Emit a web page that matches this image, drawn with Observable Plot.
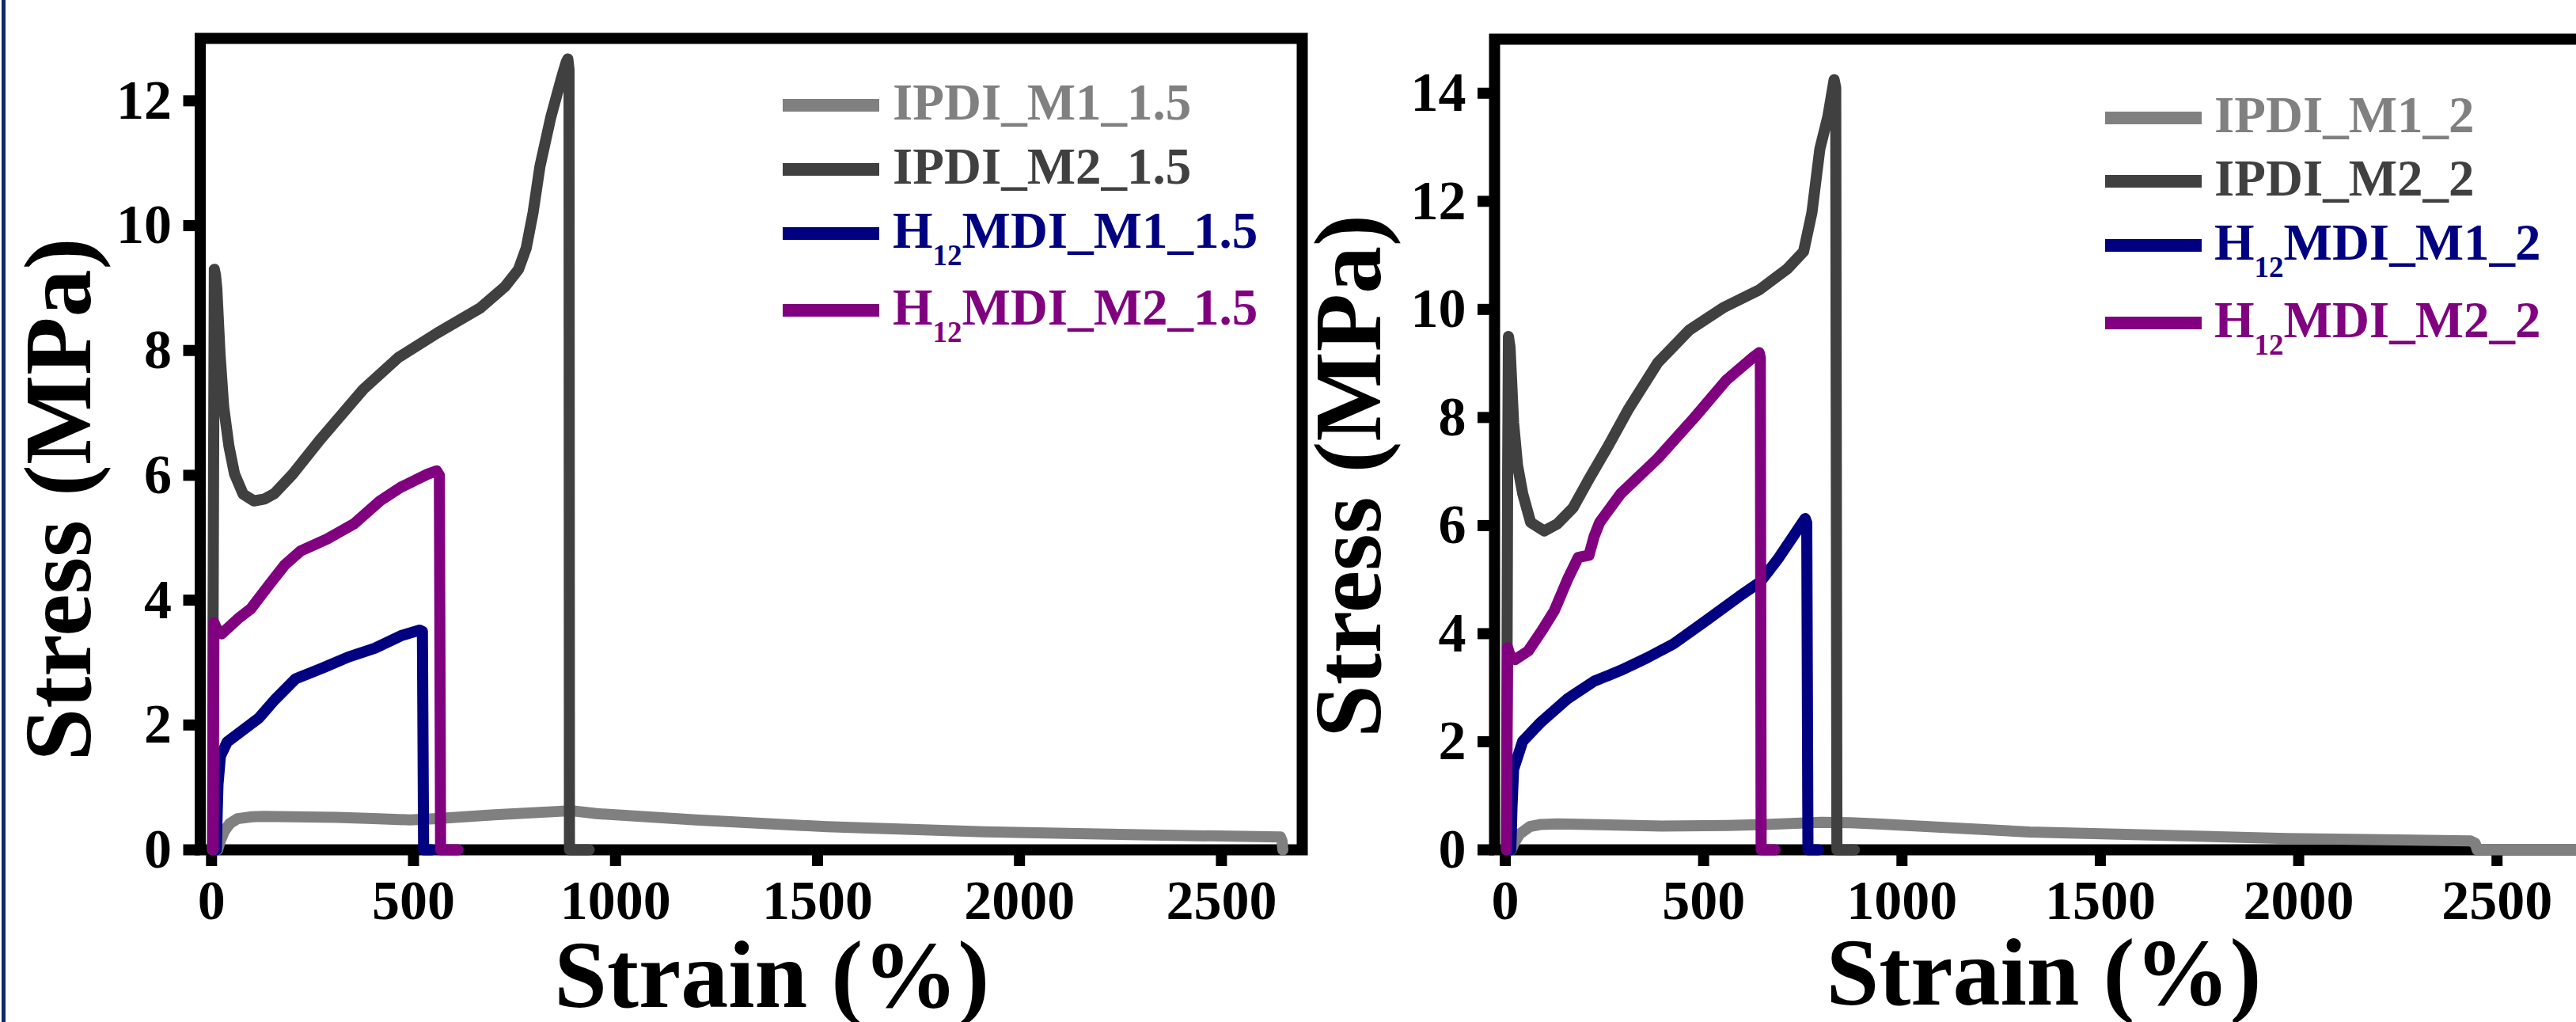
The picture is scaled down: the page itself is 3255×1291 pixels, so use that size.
<!DOCTYPE html>
<html>
<head>
<meta charset="utf-8">
<script src="https://cdn.jsdelivr.net/npm/d3@7"></script>
<script src="https://cdn.jsdelivr.net/npm/@observablehq/plot@0.6"></script>
<style>
  html, body { margin: 0; padding: 0; background: #fff; }
  #page { position: relative; width: 3255px; height: 1291px; overflow: hidden; background: #fff; }
  .panel { position: absolute; top: 0; }
  .edge { position: absolute; left: 2px; top: 0; width: 5px; height: 1291px; background: #10296a; }
  .leg { position: absolute; font-family: "Liberation Serif", "Times New Roman", serif; font-weight: bold; }
  .sw { position: absolute; height: 16px; width: 122px; }
  .lt { position: absolute; font-size: 65px; line-height: 65px; white-space: nowrap; }
  .lt .sb { font-size: 37px; position: relative; top: 22px; }
</style>
</head>
<body>
<div id="page">
  <div id="left" class="panel" style="left:0px"></div>
  <div id="right" class="panel" style="left:1600px"></div>
  <div class="edge"></div>
</div>
<script>
// ---------- data (strain %, stress MPa) ----------
const strainTicks = [0, 500, 1000, 1500, 2000, 2500];
const stressTicksA = [0, 2, 4, 6, 8, 10, 12];
const stressTicksB = [0, 2, 4, 6, 8, 10, 12, 14];

const colors = ["#808080", "#404040", "#000080", "#800080"];
const namesA = [["IPDI_M1_1.5"], ["IPDI_M2_1.5"], ["H", "12", "MDI_M1_1.5"], ["H", "12", "MDI_M2_1.5"]];
const namesB = [["IPDI_M1_2"], ["IPDI_M2_2"], ["H", "12", "MDI_M1_2"], ["H", "12", "MDI_M2_2"]];

const IPDI_M1_15 = [[15,0],[22,0.15],[32,0.3],[45,0.42],[65,0.5],[100,0.53],[129,0.535],[200,0.53],[309,0.52],[400,0.5],[491,0.48],[560,0.5],[700,0.56],[871,0.62],[900,0.62],[953,0.58],[1200,0.48],[1523,0.37],[1913,0.29],[2300,0.24],[2646,0.205],[2650,0.14],[2652,0]];
const IPDI_M2_15 = [[2,0],[5,6],[7,9.3],[10,9.2],[13,9.0],[21,7.95],[30,7.1],[43,6.47],[57,6.02],[78,5.7],[105,5.59],[131,5.62],[156,5.71],[201,6.02],[270,6.58],[376,7.38],[463,7.89],[559,8.28],[612,8.48],[665,8.68],[726,9.02],[760,9.3],[779,9.64],[796,10.21],[813,10.95],[840,11.74],[866,12.36],[878,12.62],[882,12.67],[885,12.5],[886,0],[935,0]];
const H12_M1_15 = [[12,0],[14,0.6],[16,1.05],[22,1.5],[39,1.73],[78,1.92],[117,2.11],[156,2.4],[208,2.74],[274,2.91],[339,3.09],[404,3.23],[469,3.43],[515,3.52],[522,3.5],[525,0],[545,0]];
const H12_M2_15 = [[4,0],[6,3.64],[12,3.55],[25,3.46],[65,3.7],[97,3.86],[143,4.25],[182,4.57],[221,4.79],[286,4.98],[352,5.22],[417,5.59],[469,5.81],[535,6.02],[557,6.07],[564,6.0],[567,0],[610,0]];

const IPDI_M1_2 = [[15,0],[22,0.12],[36,0.29],[62,0.43],[90,0.47],[132,0.48],[394,0.44],[560,0.45],[657,0.47],[797,0.51],[870,0.5],[937,0.48],[1322,0.33],[1969,0.21],[2433,0.166],[2445,0.12],[2450,0],[2730,0]];
const IPDI_M2_2 = [[3,0],[6,7],[8,9.5],[12,9.3],[21,7.9],[31,7.11],[44,6.59],[64,6.06],[98,5.9],[131,6.03],[171,6.33],[211,6.86],[257,7.44],[311,8.16],[384,9.01],[464,9.62],[549,10.03],[640,10.36],[711,10.75],[752,11.07],[773,11.79],[793,12.97],[813,13.56],[829,14.25],[833,14.1],[836,0],[880,0]];
const H12_M1_2 = [[14,0],[17,0.8],[21,1.49],[44,2.01],[91,2.37],[158,2.8],[224,3.12],[291,3.32],[357,3.55],[424,3.81],[504,4.23],[590,4.69],[643,4.96],[690,5.41],[756,6.13],[760,6.05],[763,0],[790,0]];
const H12_M2_2 = [[3,0],[6,3.74],[12,3.6],[25,3.52],[58,3.68],[91,4.04],[124,4.43],[158,5.02],[184,5.41],[211,5.45],[224,5.8],[238,6.06],[291,6.59],[384,7.24],[477,8.0],[557,8.69],[624,9.11],[640,9.2],[643,9.1],[645,0],[680,0]];

const seriesA = [IPDI_M1_15, IPDI_M2_15, H12_M1_15, H12_M2_15];
const seriesB = [IPDI_M1_2, IPDI_M2_2, H12_M1_2, H12_M2_2];

const FONT = "'Liberation Serif', 'Times New Roman', serif";

function panel(cfg) {
  const lines = cfg.series.map((s, i) => Plot.line(s, {
    x: d => d[0], y: d => d[1], stroke: colors[i], strokeWidth: 14,
    strokeLinejoin: "round", strokeLinecap: "round"
  }));
  return Plot.plot({
    width: cfg.width, height: 1291,
    marginLeft: cfg.ml, marginRight: cfg.mr, marginTop: cfg.mt, marginBottom: 218,
    style: {fontFamily: FONT, fontWeight: "bold", background: "transparent", maxWidth: "none", color: "black", overflow: "visible"},
    x: {domain: cfg.xd},
    y: {domain: cfg.yd},
    marks: [
      Plot.frame({stroke: "black", strokeWidth: 14}),
      Plot.axisX({ticks: strainTicks, tickFormat: d => String(d), tickSize: 21, tickPadding: 17, strokeWidth: 14, fontSize: 70, fontWeight: "bold", label: null}),
      Plot.axisY({ticks: cfg.yt, tickFormat: d => String(d), tickSize: 21, tickPadding: 15, strokeWidth: 14, fontSize: 70, fontWeight: "bold", label: null}),
      ...lines,
      Plot.text(["Strain (%)"], {frameAnchor: "bottom", text: d => d, dx: cfg.xlDx, dy: cfg.xlDy, fontSize: 120, fontWeight: "bold", textAnchor: "middle", lineAnchor: "middle", fill: "black"}),
      Plot.text(["Stress (MPa)"], {frameAnchor: "left", text: d => d, rotate: -90, dx: cfg.ylDx, dy: cfg.ylDy, fontSize: 120, fontWeight: "bold", textAnchor: "middle", lineAnchor: "middle", fill: "black"})
    ]
  });
}

document.getElementById("left").append(panel({
  series: seriesA, width: 1660, ml: 252.5, mr: 15, mt: 48,
  xd: [-28, 2700], yd: [0, 13], yt: stressTicksA,
  xlDx: 26, xlDy: 160, ylDx: -177, ylDy: 70
}));
document.getElementById("right").append(panel({
  series: seriesB, width: 1690, ml: 288, mr: 20, mt: 49,
  xd: [-27, 2730], yd: [0, 15], yt: stressTicksB,
  xlDx: 3, xlDy: 157, ylDx: -183, ylDy: 40
}));

// ---------- legends ----------
function legend(names, swX, textX, centers) {
  const page = document.getElementById("page");
  names.forEach((n, i) => {
    const sw = document.createElement("div");
    sw.className = "leg sw";
    sw.style.left = swX + "px";
    sw.style.top = (centers[i] - 8) + "px";
    sw.style.background = colors[i];
    page.append(sw);
    const t = document.createElement("div");
    t.className = "leg lt";
    t.style.left = textX + "px";
    t.style.top = (centers[i] + 18 - 54) + "px";
    t.style.color = colors[i];
    if (n.length === 1) t.textContent = n[0];
    else t.innerHTML = n[0] + '<span class="sb">' + n[1] + '</span>' + n[2];
    page.append(t);
  });
}
legend(namesA, 989, 1128, [133, 214, 295, 392]);
legend(namesB, 2660, 2798, [149, 229, 310, 408]);
</script>
</body>
</html>
